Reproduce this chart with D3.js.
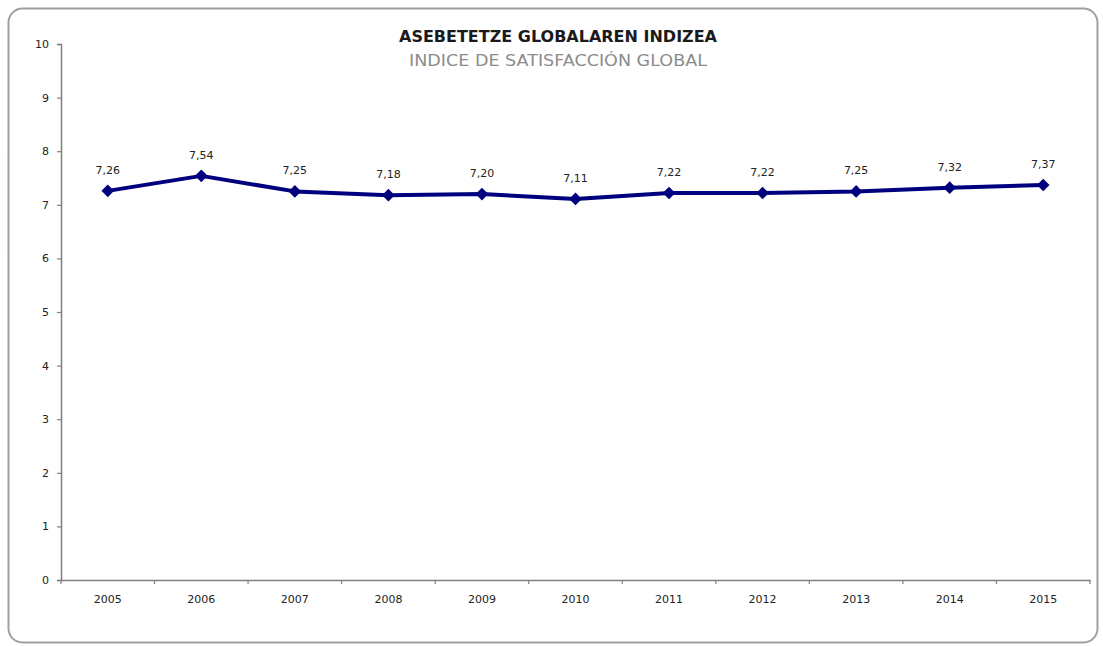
<!DOCTYPE html>
<html>
<head>
<meta charset="utf-8">
<script src="https://cdn.jsdelivr.net/npm/d3@7"></script>
<style>
html,body{margin:0;padding:0;background:#fff;}
svg{display:block;}
</style>
</head>
<body>
<svg id="chart" width="1103" height="646"></svg>
<script>
const years = ["2005","2006","2007","2008","2009","2010","2011","2012","2013","2014","2015"];
const values = [7.26, 7.54, 7.25, 7.18, 7.20, 7.11, 7.22, 7.22, 7.25, 7.32, 7.37];
const yTicks = [0,1,2,3,4,5,6,7,8,9,10];
const titleMain = "ASEBETETZE GLOBALAREN INDIZEA";
const titleSub = "INDICE DE SATISFACCIÓN GLOBAL";

const svg = d3.select("#chart");
const W = 1103, H = 646;
const m = {left: 61, right: 13, top: 44, bottom: 66};

// frame
svg.append("rect")
  .attr("x", 8.5).attr("y", 8.5)
  .attr("width", 1089).attr("height", 634)
  .attr("rx", 14).attr("ry", 14)
  .attr("fill", "#fff")
  .attr("stroke", "#a0a0a0").attr("stroke-width", 2);

const x = d3.scaleBand().domain(years).range([m.left, W - m.right]).padding(0);
const y = d3.scaleLinear().domain([0, 10]).range([H - m.bottom, m.top]);

const axisColor = "#7f7f7f";
const fontFam = "'DejaVu Sans', Verdana, sans-serif";

// y axis
const yAxis = svg.append("g")
  .attr("transform", `translate(${m.left},0)`)
  .call(d3.axisLeft(y).tickValues(yTicks).tickSize(4).tickPadding(8).tickFormat(d3.format("d")));
yAxis.select(".domain").attr("stroke", axisColor).attr("stroke-width", 1.5);
yAxis.selectAll(".tick line").attr("stroke", axisColor).attr("stroke-width", 1.2);
yAxis.selectAll("text").attr("font-family", fontFam).attr("font-size", 11).attr("fill", "#222");

// x axis
const xAxis = svg.append("g")
  .attr("transform", `translate(0,${H - m.bottom})`)
  .call(d3.axisBottom(x).tickSize(0).tickPadding(15));
xAxis.select(".domain").attr("stroke", axisColor).attr("stroke-width", 1.5);
xAxis.selectAll("text").attr("font-family", fontFam).attr("font-size", 11).attr("fill", "#222");
const bounds = years.map(d => x(d)).concat([x(years[years.length-1]) + x.bandwidth()]);
xAxis.selectAll(".sep").data(bounds).enter().append("line")
  .attr("class", "sep")
  .attr("x1", d => d).attr("x2", d => d)
  .attr("y1", 0).attr("y2", 4)
  .attr("stroke", axisColor).attr("stroke-width", 1.2);

// line
const cx = d => x(d) + x.bandwidth() / 2;
const data = years.map((yr, i) => ({yr, v: values[i]}));
svg.append("path")
  .datum(data)
  .attr("fill", "none")
  .attr("stroke", "#00007f")
  .attr("stroke-width", 4)
  .attr("stroke-linejoin", "round")
  .attr("d", d3.line().x(d => cx(d.yr)).y(d => y(d.v)));

// markers (square diamonds)
svg.selectAll(".mk").data(data).enter().append("path")
  .attr("class", "mk")
  .attr("transform", d => `translate(${cx(d.yr)},${y(d.v)}) rotate(45)`)
  .attr("d", d3.symbol().type(d3.symbolSquare).size(80))
  .attr("fill", "#00007f");

// labels
const fmt = v => v.toFixed(2).replace(".", ",");
svg.selectAll(".lbl").data(data).enter().append("text")
  .attr("class", "lbl")
  .attr("x", d => cx(d.yr))
  .attr("y", d => y(d.v) - 17)
  .attr("text-anchor", "middle")
  .attr("font-family", fontFam)
  .attr("font-size", 11)
  .attr("fill", "#222")
  .text(d => fmt(d.v));

// titles
svg.append("text")
  .attr("x", 558).attr("y", 42)
  .attr("text-anchor", "middle")
  .attr("font-family", "'DejaVu Sans', sans-serif")
  .attr("font-weight", "bold")
  .attr("font-size", 15.5)
  .attr("textLength", 318)
  .attr("lengthAdjust", "spacingAndGlyphs")
  .attr("fill", "#1a1a1a")
  .text(titleMain);
svg.append("text")
  .attr("x", 558).attr("y", 66)
  .attr("text-anchor", "middle")
  .attr("font-family", "'DejaVu Sans', sans-serif")
  .attr("font-size", 15)
  .attr("textLength", 298)
  .attr("lengthAdjust", "spacingAndGlyphs")
  .attr("fill", "#8c8c8c")
  .text(titleSub);
</script>
</body>
</html>
